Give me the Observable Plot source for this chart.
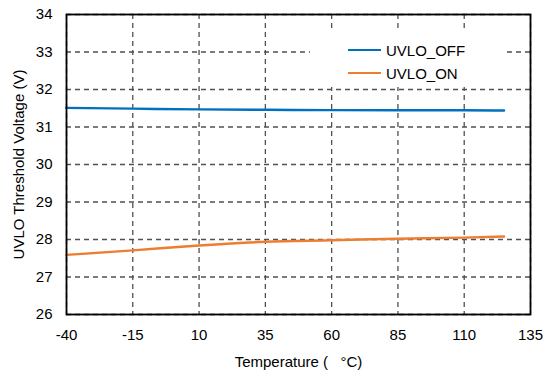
<!DOCTYPE html>
<html>
<head>
<meta charset="utf-8">
<script src="https://cdn.jsdelivr.net/npm/d3@7"></script>
<script src="https://cdn.jsdelivr.net/npm/@observablehq/plot@0.6"></script>
<style>
  html, body { margin: 0; padding: 0; background: #fff; }
  #chart { position: relative; width: 543px; height: 378px; font-family: "Liberation Sans", Arial, sans-serif; }
  #legend { position: absolute; left: 310px; top: 32px; width: 193px; height: 55px; background: #fff; }
  .item { position: absolute; left: 38px; height: 18px; display: flex; align-items: center; font-size: 15px; color: #000; }
  .swatch { width: 33px; height: 0; border-top: 2.5px solid; margin-right: 5px; }
</style>
</head>
<body>
<div id="chart"></div>
<script>
// Temperature sweep (°C)
const temperature = [-40, -15, 10, 35, 60, 85, 110, 125];
// UVLO thresholds (V)
const uvloOff = [31.51, 31.49, 31.47, 31.46, 31.45, 31.45, 31.45, 31.44];
const uvloOn  = [27.59, 27.71, 27.84, 27.94, 27.98, 28.02, 28.05, 28.08];

const seriesNames = ["UVLO_OFF", "UVLO_ON"];
const seriesColors = ["#0070C0", "#ED7D31"];
const xTicks = [-40, -15, 10, 35, 60, 85, 110, 135];
const yTicks = [26, 27, 28, 29, 30, 31, 32, 33, 34];

const rows = [];
[uvloOff, uvloOn].forEach((vals, s) => {
  temperature.forEach((t, i) => rows.push({series: seriesNames[s], t, v: vals[i]}));
});

const gridStyle = {stroke: "#505050", strokeOpacity: 1, strokeWidth: 1.3, strokeDasharray: "5,4"};

const chart = Plot.plot({
  width: 543,
  height: 378,
  marginLeft: 66,
  marginRight: 13,
  marginTop: 14,
  marginBottom: 64,
  style: {fontFamily: '"Liberation Sans", Arial, sans-serif', fontSize: "15px", color: "#000", background: "#fff"},
  x: {domain: [-40, 135], ticks: xTicks, tickSize: 0, tickPadding: 15, tickFormat: d => String(d),
      label: "Temperature (\u00a0\u00a0 °C)", labelAnchor: "center", labelArrow: "none", labelOffset: 52},
  y: {domain: [26, 34], ticks: yTicks, tickSize: 0, tickPadding: 14, tickFormat: d => String(d),
      label: "UVLO Threshold Voltage (V)", labelAnchor: "center", labelArrow: "none", labelOffset: 53},
  color: {domain: seriesNames, range: seriesColors},
  marks: [
    Plot.gridX(xTicks, gridStyle),
    Plot.gridY(yTicks, gridStyle),
    Plot.line(rows, {x: "t", y: "v", z: "series", stroke: "series", strokeWidth: 2.5, curve: "monotone-x"}),
    Plot.frame({stroke: "#000", strokeWidth: 1.8})
  ]
});

const host = document.getElementById("chart");
host.appendChild(chart);

// Legend box drawn over the upper right of the plot area
const legend = document.createElement("div");
legend.id = "legend";
seriesNames.forEach((name, i) => {
  const item = document.createElement("div");
  item.className = "item";
  item.style.top = (9 + i * 23) + "px";
  const sw = document.createElement("span");
  sw.className = "swatch";
  sw.style.borderTopColor = seriesColors[i];
  const label = document.createElement("span");
  label.textContent = name;
  item.appendChild(sw);
  item.appendChild(label);
  legend.appendChild(item);
});
host.appendChild(legend);
</script>
</body>
</html>
